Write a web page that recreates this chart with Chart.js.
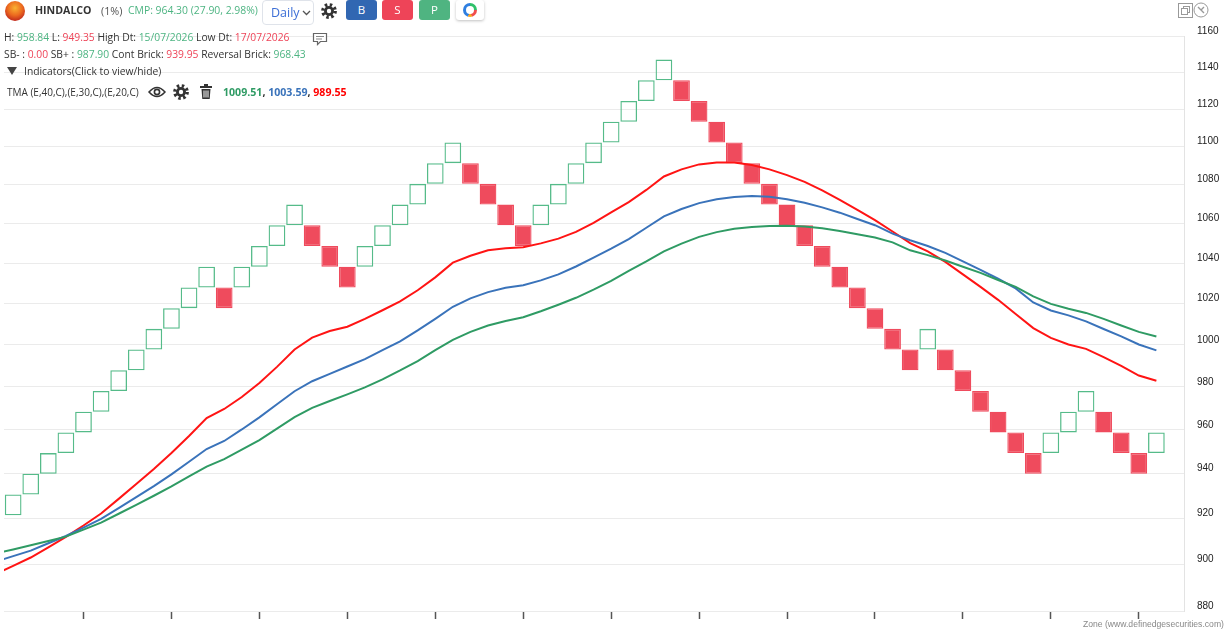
<!DOCTYPE html>
<html>
<head>
<meta charset="utf-8">
<title>HINDALCO Renko</title>
<script src="https://cdn.jsdelivr.net/npm/chart.js@4.4.1/dist/chart.umd.min.js"></script>
<style>
    body { margin: 0; background: #fff; font-family: 'Open Sans', sans-serif; overflow: hidden; }
    #wrap { position: relative; width: 1226px; height: 634px; }
    #renko { position: absolute; left: 0; top: 0; }
    .abs { position: absolute; white-space: nowrap; }
    .row { position: absolute; white-space: nowrap; font-size: 10.3px; color: #333; line-height: 14px; }
    .g { color: #4db482; }
    .r { color: #ee4458; }
    .btn { position: absolute; top: 0; width: 31px; height: 20px; border-radius: 3px; color: #fff;
           font-size: 11.5px; line-height: 20px; text-align: center; }
</style>
</head>
<body>
<div id="wrap">
    <canvas id="renko" width="1226" height="634"></canvas>

    <div class="abs" style="left:5px;top:1px;width:20px;height:20px;border-radius:50%;
         background:radial-gradient(circle at 50% 35%, #f9b233 0, #ec6a1f 45%, #c0281d 80%);"></div>
    <div class="abs" style="left:35px;top:3px;font-size:10.6px;font-weight:700;color:#333;">HINDALCO</div>
    <div class="abs" style="left:101px;top:3px;font-size:10.8px;color:#555;">(1%)</div>
    <div class="abs g" style="left:128px;top:3px;font-size:10.4px;">CMP: 964.30 (27.90, 2.98%)</div>

    <div class="abs" style="left:262px;top:0;width:50px;height:23px;border:1px solid #dfe3ea;border-radius:4px;background:#fff;">
        <span class="abs" style="left:8px;top:3px;font-size:12.5px;color:#3d6fd6;">Daily</span>
        <svg class="abs" style="left:39px;top:9px;" width="9" height="6"><path d="M1 1 L4.5 4.5 L8 1" fill="none" stroke="#555" stroke-width="1.3"/></svg>
    </div>
    <svg class="abs" style="left:321px;top:3px;" width="16" height="16" viewBox="0 0 16 16">
        <circle cx="8" cy="8" r="6.2" fill="none" stroke="#333" stroke-width="3.4" stroke-dasharray="2.43 2.44"/>
        <circle cx="8" cy="8" r="5" fill="#333"/><circle cx="8" cy="8" r="2.2" fill="#fff"/>
    </svg>
    <div class="btn" style="left:346px;background:#3167b2;">B</div>
    <div class="btn" style="left:382px;background:#ee4458;">S</div>
    <div class="btn" style="left:419px;background:#4fb481;">P</div>
    <div class="abs" style="left:456px;top:0;width:28px;height:20px;border-radius:3px;background:#fff;box-shadow:0 1px 3px rgba(0,0,0,0.25);">
        <div class="abs" style="left:7px;top:3px;width:14px;height:14px;border-radius:50%;
             background:conic-gradient(#2fc16a 0 25%, #f04d4d 25% 45%, #f6a623 45% 55%, #2f7fe0 55% 100%);"></div>
        <div class="abs" style="left:10px;top:6px;width:8px;height:8px;border-radius:50%;background:#fff;"></div>
    </div>

    <div class="row" style="left:4px;top:30px;">H: <span class="g">958.84</span> L: <span class="r">949.35</span> High Dt: <span class="g">15/07/2026</span> Low Dt: <span class="r">17/07/2026</span></div>
    <svg class="abs" style="left:312px;top:32px;" width="16" height="14">
        <path d="M1.5 1.5 h13 v8 h-6 l-3 3 v-3 h-4 Z" fill="#fff" stroke="#666" stroke-width="1.2"/>
        <path d="M4 4.5 h8 M4 7 h6" stroke="#888"/>
    </svg>
    <div class="row" style="left:4px;top:47px;">SB- : <span class="r">0.00</span> SB+ : <span class="g">987.90</span> Cont Brick: <span class="r">939.95</span> Reversal Brick: <span class="g">968.43</span></div>
    <svg class="abs" style="left:7px;top:67px;" width="10" height="8"><path d="M0 0 H10 L5 8 Z" fill="#444"/></svg>
    <div class="row" style="left:24px;top:64px;">Indicators(Click to view/hide)</div>

    <div class="row" style="left:7px;top:85px;font-size:10px;">TMA (E,40,C),(E,30,C),(E,20,C)</div>
    <svg class="abs" style="left:148px;top:86px;" width="18" height="12" viewBox="0 0 18 12">
        <path d="M1 6 Q9 -3 17 6 Q9 15 1 6 Z" fill="none" stroke="#333" stroke-width="1.5"/>
        <circle cx="9" cy="6" r="2.6" fill="none" stroke="#333" stroke-width="1.6"/>
    </svg>
    <svg class="abs" style="left:173px;top:84px;" width="16" height="16" viewBox="0 0 16 16">
        <circle cx="8" cy="8" r="6.2" fill="none" stroke="#333" stroke-width="3.4" stroke-dasharray="2.43 2.44"/>
        <circle cx="8" cy="8" r="5" fill="#333"/><circle cx="8" cy="8" r="2.2" fill="#fff"/>
    </svg>
    <svg class="abs" style="left:199px;top:84px;" width="14" height="16" viewBox="0 0 14 16">
        <rect x="1" y="2" width="12" height="2" fill="#333"/><rect x="5" y="0" width="4" height="2" fill="#333"/>
        <path d="M2.5 5 h9 l-0.8 10 h-7.4 Z" fill="#333"/>
        <path d="M5 6.5 v7 M7 6.5 v7 M9 6.5 v7" stroke="#fff" stroke-width="1"/>
    </svg>
    <div class="row" style="left:223px;top:85px;font-size:10.6px;font-weight:700;"><span style="color:#2f9b64;">1009.51</span>, <span style="color:#3a73ba;">1003.59</span>, <span style="color:#ff0000;">989.55</span></div>

    <svg class="abs" style="left:1178px;top:3px;" width="15" height="15" viewBox="0 0 15 15">
        <rect x="0.5" y="0.5" width="14" height="14" fill="#fff" stroke="#999"/>
        <rect x="5.5" y="3.5" width="6" height="6" fill="none" stroke="#999"/>
        <rect x="3.5" y="5.5" width="6" height="6" fill="#fff" stroke="#999"/>
    </svg>
    <svg class="abs" style="left:1193px;top:2px;" width="16" height="16" viewBox="0 0 16 16">
        <circle cx="8" cy="8" r="7" fill="#fff" stroke="#999"/>
        <path d="M5 5 L11 11 M11 5 L8 8" stroke="#999" stroke-width="1.4"/>
    </svg>
    <div class="abs" style="left:1083px;top:619px;font-family:'Liberation Sans',sans-serif;font-size:8.6px;color:#888;">Zone (www.definedgesecurities.com)</div>
</div>

<script>
// renko bricks, one per column (1% box size)
const brickOpen = [
    912.31, 921.43, 930.64, 939.95, 949.35, 958.84, 968.43, 978.12, 987.90, 997.78,
    1007.75, 1017.83, 1028.01, 1028.01, 1028.01, 1038.29, 1048.67, 1059.16, 1059.16, 1048.67,
    1038.29, 1038.29, 1048.67, 1059.16, 1069.75, 1080.45, 1091.25, 1091.25, 1080.45, 1069.75,
    1059.16, 1059.16, 1069.75, 1080.45, 1091.25, 1102.17, 1113.19, 1124.32, 1135.56, 1135.56,
    1124.32, 1113.19, 1102.17, 1091.25, 1080.45, 1069.75, 1059.16, 1048.67, 1038.29, 1028.01,
    1017.83, 1007.75, 997.78, 997.78, 997.78, 987.90, 978.12, 968.43, 958.84, 949.35,
    949.35, 958.84, 968.43, 968.43, 958.84, 949.35, 949.35
];
const brickClose = [
    921.43, 930.64, 939.95, 949.35, 958.84, 968.43, 978.12, 987.90, 997.78, 1007.75,
    1017.83, 1028.01, 1038.29, 1017.83, 1038.29, 1048.67, 1059.16, 1069.75, 1048.67, 1038.29,
    1028.01, 1048.67, 1059.16, 1069.75, 1080.45, 1091.25, 1102.17, 1080.45, 1069.75, 1059.16,
    1048.67, 1069.75, 1080.45, 1091.25, 1102.17, 1113.19, 1124.32, 1135.56, 1146.92, 1124.32,
    1113.19, 1102.17, 1091.25, 1080.45, 1069.75, 1059.16, 1048.67, 1038.29, 1028.01, 1017.83,
    1007.75, 997.78, 987.90, 1007.75, 987.90, 978.12, 968.43, 958.84, 949.35, 939.95,
    958.84, 968.43, 978.12, 958.84, 949.35, 939.95, 958.84
];

// TMA lines (E,40 / E,30 / E,20)
const ema40 = [
    904.7, 906.4, 908.2, 910.1, 912.0, 915.1, 918.2, 922.1, 926.0, 930.1,
    934.3, 938.8, 943.2, 946.6, 950.9, 955.3, 960.6, 965.9, 970.2, 973.4,
    976.5, 979.8, 983.6, 987.8, 992.3, 997.5, 1002.4, 1006.3, 1009.4, 1011.6,
    1013.4, 1016.3, 1019.5, 1022.9, 1026.9, 1031.2, 1036.2, 1040.9, 1046.0, 1049.9,
    1053.3, 1055.7, 1057.4, 1058.3, 1058.8, 1058.9, 1058.5, 1057.7, 1056.3, 1054.6,
    1053.0, 1050.5, 1046.5, 1044.1, 1041.4, 1038.3, 1035.2, 1031.7, 1028.3, 1023.6,
    1019.9, 1017.5, 1015.5, 1012.6, 1009.4, 1006.3, 1004.1
];
const ema30 = [
    901.1, 903.5, 905.9, 909.1, 912.3, 916.0, 919.8, 924.6, 929.5, 934.4,
    939.7, 945.4, 951.2, 954.9, 960.2, 965.8, 971.9, 978.0, 982.7, 986.2,
    989.7, 993.2, 997.5, 1001.7, 1007.0, 1012.6, 1018.5, 1022.6, 1025.7, 1027.8,
    1029.1, 1031.5, 1034.5, 1038.4, 1042.8, 1047.3, 1052.2, 1057.9, 1063.7, 1067.5,
    1070.5, 1072.5, 1073.7, 1074.2, 1073.8, 1072.5, 1070.7, 1068.3, 1065.6, 1062.4,
    1059.2, 1054.9, 1051.6, 1048.7, 1045.2, 1041.0, 1036.7, 1032.3, 1027.5, 1020.6,
    1016.7, 1014.3, 1011.4, 1007.7, 1004.1, 1000.2, 997.4
];
const ema20 = [
    895.8, 899.3, 902.9, 907.3, 911.9, 916.9, 922.2, 928.7, 935.4, 942.1,
    949.4, 957.2, 965.5, 969.7, 975.3, 981.9, 989.5, 997.8, 1003.5, 1006.7,
    1008.8, 1012.6, 1016.8, 1021.1, 1026.6, 1033.0, 1040.3, 1043.8, 1046.5, 1047.5,
    1048.1, 1050.0, 1052.4, 1055.8, 1060.4, 1065.8, 1071.0, 1077.3, 1084.3, 1088.0,
    1090.6, 1091.6, 1091.6, 1090.3, 1088.0, 1085.0, 1081.5, 1077.1, 1072.2, 1067.0,
    1061.8, 1056.0, 1050.1, 1046.0, 1040.7, 1034.5, 1028.3, 1021.9, 1015.0, 1008.1,
    1003.4, 1000.2, 998.1, 994.2, 990.0, 985.4, 982.9
];

const priceTicks = [880, 900, 920, 940, 960, 980, 1000, 1020, 1040, 1060, 1080, 1100, 1120, 1140, 1160];
const brickTicks = [5, 10, 15, 20, 25, 30, 35, 40, 45, 50, 55, 60, 65];

const upColor = '#55bb89';
const downColor = '#ef4b5d';

const bricks = brickOpen.map((o, i) => ({ x: i, y: [o, brickClose[i]] }));
const isUp = brickOpen.map((o, i) => brickClose[i] > o);

function linePoints(values) {
    return values.map((v, i) => ({ x: i, y: v }));
}

function lineSet(label, values, color) {
    return {
        type: 'line',
        label: label,
        data: linePoints(values),
        borderColor: color,
        borderWidth: 2,
        pointRadius: 0,
        tension: 0,
        fill: false,
        order: 1
    };
}

const ctx = document.getElementById('renko').getContext('2d');
new Chart(ctx, {
    type: 'bar',
    data: {
        datasets: [
            lineSet('E,40', ema40, '#2f9b64'),
            lineSet('E,30', ema30, '#3a73ba'),
            lineSet('E,20', ema20, '#ff1414'),
            {
                type: 'bar',
                label: 'Bricks',
                data: bricks,
                backgroundColor: isUp.map(u => u ? 'rgba(255,255,255,0)' : downColor),
                borderColor: isUp.map(u => u ? upColor : downColor),
                borderWidth: 1.3,
                borderSkipped: false,
                barPercentage: 0.95,
                categoryPercentage: 1,
                order: 2
            }
        ]
    },
    options: {
        responsive: false,
        animation: false,
        devicePixelRatio: 1,
        layout: { padding: { left: 4, top: 36, right: 0, bottom: 0 } },
        plugins: {
            legend: { display: false },
            tooltip: { enabled: false }
        },
        scales: {
            x: {
                type: 'linear',
                offset: false,
                min: 0.48,
                max: 67.57,
                afterBuildTicks: axis => { axis.ticks = brickTicks.map(v => ({ value: v })); },
                afterFit: axis => { axis.height = 23; },
                ticks: { callback: () => '' },
                grid: { offset: false, drawOnChartArea: false, drawTicks: true, tickLength: 8, tickColor: '#555', tickWidth: 1.5 },
                border: { display: false }
            },
            y: {
                type: 'logarithmic',
                position: 'right',
                min: 880,
                max: 1160,
                afterBuildTicks: axis => { axis.ticks = priceTicks.map(v => ({ value: v })); },
                afterFit: axis => { axis.width = 42; },
                ticks: {
                    callback: v => String(v),
                    color: '#222',
                    font: { family: 'Liberation Sans', size: 10 },
                    padding: 13,
                    labelOffset: -5
                },
                grid: { color: '#ebebeb', drawTicks: false },
                border: { color: '#e3e3e3' }
            }
        }
    }
});
</script>
</body>
</html>
